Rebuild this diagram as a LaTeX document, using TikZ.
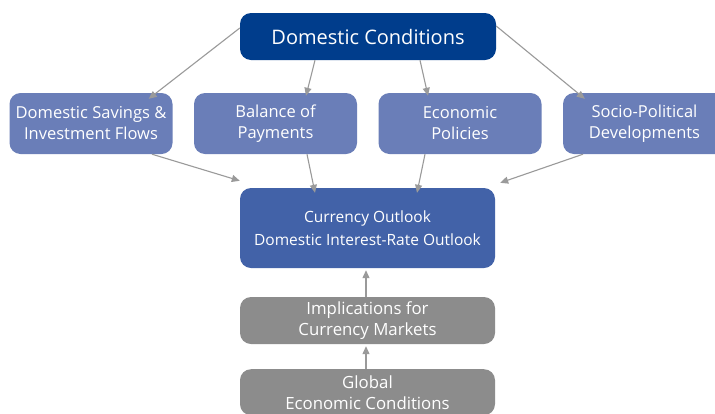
\documentclass[tikz,border=0pt]{standalone}
\usepackage{fontspec}
\setmainfont{Open Sans}
\usetikzlibrary{arrows.meta}
\definecolor{navy}{HTML}{003D8C}
\definecolor{midblue}{HTML}{6A7EB8}
\definecolor{coblue}{HTML}{4262A8}
\definecolor{boxgray}{HTML}{8C8C8C}
\definecolor{arrgray}{HTML}{9A9A9A}
\begin{document}
\begin{tikzpicture}[x=1pt,y=-1pt,
  box/.style={rounded corners=11pt, text=white, align=center, inner sep=0pt},
  topbox/.style={box, fill=navy, minimum width=256pt, minimum height=47pt, font=\fontsize{20}{24}\selectfont},
  midbox/.style={box, fill=midblue, minimum width=163pt, minimum height=61pt, font=\fontsize{16.5}{21}\selectfont},
  cobox/.style={box, fill=coblue, minimum width=255pt, minimum height=80pt, font=\fontsize{15.5}{23}\selectfont},
  graybox/.style={box, fill=boxgray, minimum width=255pt, minimum height=47pt, font=\fontsize{16.8}{21}\selectfont},
  arr/.style={draw=arrgray, line width=1.1pt, -{Triangle[length=8pt,width=7pt]}}
]
\useasboundingbox (0,0) rectangle (715,413);
\clip (0,0) rectangle (715,413);
\fill[white] (0,0) rectangle (715,413);

\node[topbox] (dc) at (368,36.5) {Domestic Conditions};
\node[midbox] (b1) at (91,123.5) {Domestic Savings \&\\Investment Flows};
\node[midbox] (b2) at (275.5,123.5) {Balance of\\Payments};
\node[midbox] (b3) at (460,123.5) {Economic\\Policies};
\node[midbox] (b4) at (644.5,123.5) {Socio-Political\\Developments};
\node[cobox] (co) at (367.5,228) {Currency Outlook\\Domestic Interest-Rate Outlook};
\node[graybox] (im) at (367.5,320.5) {Implications for\\Currency Markets};
\node[graybox, minimum height=46pt, anchor=north] (gl) at (367.5,369) {Global\\Economic Conditions};

% top to middle row
\draw[arr] ([yshift=8.5pt]dc.west) -- ([xshift=-24pt,yshift=-6pt]b1.north east);
\draw[arr] ([xshift=-53pt]dc.south) -- ([xshift=30.5pt,yshift=-3pt]b2.north);
\draw[arr] ([xshift=52pt]dc.south) -- ([xshift=-32pt,yshift=-3pt]b3.north);
\draw[arr] ([yshift=10.5pt]dc.east) -- ([xshift=22pt,yshift=-6pt]b4.north west);
% middle row to outlook
\draw[arr] ([xshift=61pt]b1.south) -- ([yshift=7pt]co.north west);
\draw[arr] ([xshift=31.5pt]b2.south) -- ([xshift=-52.5pt,yshift=-5pt]co.north);
\draw[arr] ([xshift=-35pt]b3.south) -- ([xshift=49.5pt,yshift=-5pt]co.north);
\draw[arr] ([xshift=-61.5pt]b4.south) -- ([xshift=5pt,yshift=5pt]co.north east);
% bottom chain
\draw[arr] ([xshift=-1.5pt]im.north) -- ([xshift=-1.5pt,yshift=-2pt]co.south);
\draw[arr] ([xshift=-1.5pt]gl.north) -- ([xshift=-1.5pt,yshift=-2pt]im.south);
\end{tikzpicture}
\end{document}
